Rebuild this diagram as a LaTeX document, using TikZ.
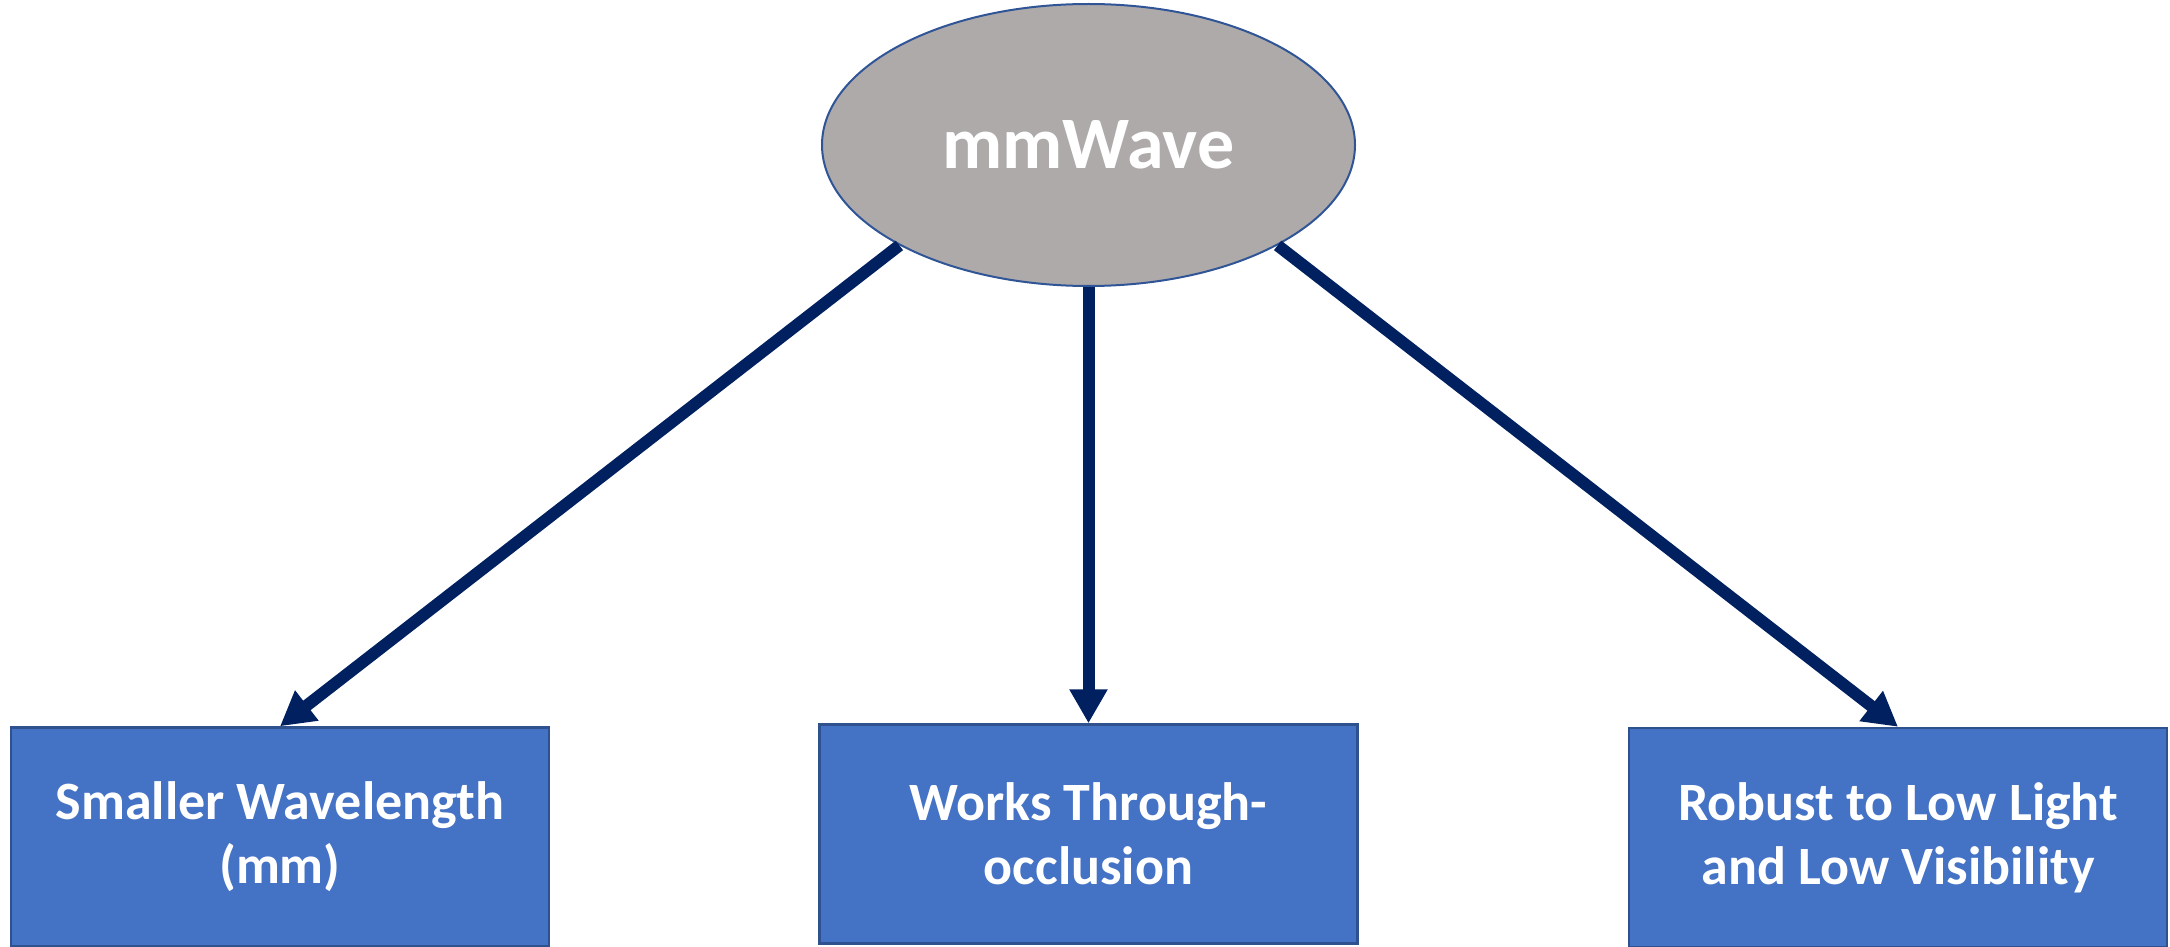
\documentclass[tikz,border=0pt]{standalone}
\usepackage{fontspec}
\setmainfont{Carlito}
\usetikzlibrary{shapes.geometric,arrows.meta}
\definecolor{ellfill}{HTML}{AEAAAA}
\definecolor{ellline}{HTML}{2F5597}
\definecolor{boxfill}{HTML}{4472C4}
\definecolor{boxline}{HTML}{2F528F}
\definecolor{arrcol}{HTML}{002060}
\tikzset{
  topell/.style={ellipse, draw=ellline, line width=1pt, fill=ellfill, inner sep=0pt,
    minimum width=266.5pt, minimum height=141pt, text=white,
    font=\bfseries\fontsize{37}{44}\selectfont},
  featbox/.style={rectangle, draw=boxline, line width=1.2pt, fill=boxfill, inner sep=0pt,
    minimum width=269pt, minimum height=109.5pt, text=white, align=center,
    font=\bfseries\fontsize{27}{32}\selectfont},
  link/.style={draw=arrcol, line width=6pt, -{Triangle[width=18pt,length=17pt]}}
}
\begin{document}
\begin{tikzpicture}[x=0.5pt,y=-0.5pt]
\useasboundingbox (0,0) rectangle (2170,947);
\node[topell] (e) at (1088.5,145) {\raisebox{-2pt}{mmWave}};
\node[featbox] (b1) at (280,837) {Smaller Wavelength\\(mm)};
\node[featbox] (b2) at (1088.5,834) {Works Through-\\occlusion};
\node[featbox] (b3) at (1898,837.5) {Robust to Low Light\\and Low Visibility};
\draw[link] (e.south west) -- (b1.north);
\draw[link] (e.south) -- (b2.north);
\draw[link] (e.south east) -- (b3.north);
\end{tikzpicture}
\end{document}
